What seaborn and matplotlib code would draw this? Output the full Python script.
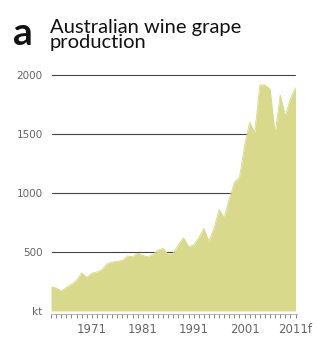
import matplotlib
matplotlib.use("Agg")
import matplotlib.pyplot as plt
import seaborn as sns
import numpy as np
import pandas as pd

years = list(range(1963, 2012))
production_kt = [205, 195, 170, 200, 225, 260, 320, 285, 320, 330,
                 350, 400, 415, 420, 430, 465, 460, 490, 470, 460,
                 480, 515, 530, 480, 490, 560, 620, 545, 560, 620,
                 700, 590, 700, 860, 790, 950, 1090, 1130, 1400, 1600,
                 1510, 1915, 1915, 1880, 1500, 1830, 1650, 1800, 1890]
y_ticks = [0, 500, 1000, 1500, 2000]
y_tick_labels = ["kt", "500", "1000", "1500", "2000"]
x_ticks = [1971, 1981, 1991, 2001, 2011]
x_tick_labels = ["1971", "1981", "1991", "2001", "2011f"]

df = pd.DataFrame({"year": years, "kt": production_kt})

sns.set_style("white")
plt.rcParams["font.family"] = ["Liberation Sans Narrow", "DejaVu Sans"]

fig = plt.figure(figsize=(3.17, 3.38), dpi=100)
ax = fig.add_axes([0.161, 0.080, 0.776, 0.716])

fill_color = "#d8d98b"
ax.fill_between(df["year"], df["kt"], 0, color=fill_color, linewidth=0, zorder=3)
sns.lineplot(data=df, x="year", y="kt", ax=ax, color=fill_color, linewidth=0.6, zorder=3)

ax.set_xlim(1963, 2011.3)
ax.set_ylim(0, 2050)

for v in y_ticks[1:]:
    ax.axhline(v, xmin=0.005, xmax=0.99, color="#444444", linewidth=0.8, zorder=1)

ax.set_yticks(y_ticks)
ax.set_yticklabels(y_tick_labels)
ax.set_xticks(x_ticks)
ax.set_xticklabels(x_tick_labels)
ax.set_xticks(years, minor=True)
ax.tick_params(axis="y", length=0, pad=6, labelsize=7.5, labelcolor="#666666")
ax.tick_params(axis="x", which="both", direction="out", length=3, width=0.7,
               color="#888888", bottom=True)
ax.tick_params(axis="x", which="major", pad=4, labelsize=8.5, labelcolor="#666666")
ax.set_xlabel("")
ax.set_ylabel("")
for s in ["top", "right", "left"]:
    ax.spines[s].set_visible(False)
ax.spines["bottom"].set_color("#aaaaaa")
ax.spines["bottom"].set_linewidth(0.6)
ax.spines["bottom"].set_position(("outward", 2))

fig.text(0.040, 0.952, "a", fontsize=28, fontweight="bold", family=["Lato", "DejaVu Sans"],
         va="top", ha="left", color="#111111")
fig.text(0.158, 0.945, "Australian wine grape\nproduction", fontsize=14.5,
         family=["Lato", "DejaVu Sans"], va="top", ha="left", color="#111111",
         linespacing=0.92)

fig.savefig("out.png", dpi=100)
